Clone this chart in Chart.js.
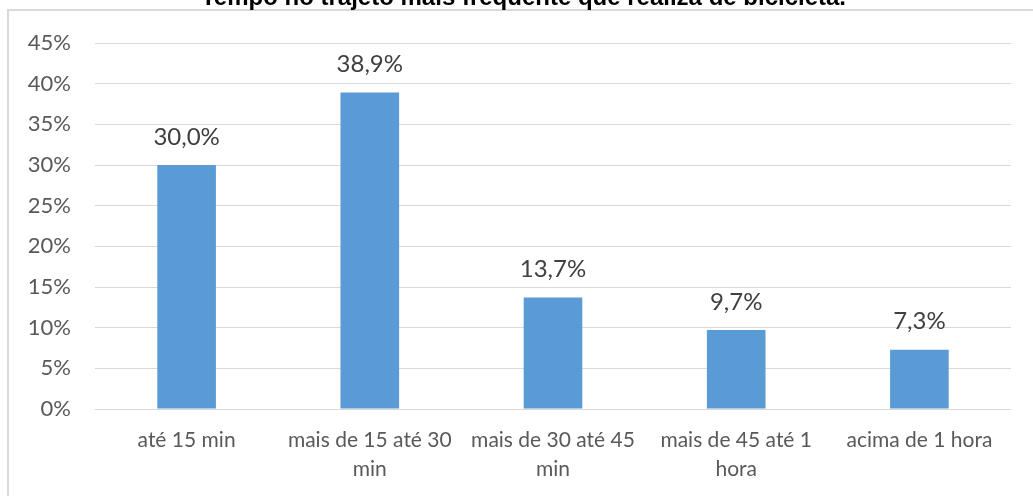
<!DOCTYPE html>
<html>
<head>
<meta charset="utf-8">
<script src="https://cdn.jsdelivr.net/npm/chart.js@4/dist/chart.umd.min.js"></script>
<style>
  body { margin: 0; background: #fff; overflow: hidden; }
  #wrap { position: relative; width: 1033px; height: 496px; }
  #frame {
    position: absolute; left: 7px; top: 9px; right: 0; bottom: 0;
    border-top: 2px solid #d9d9d9; border-left: 2px solid #d9d9d9;
  }
  #title {
    position: absolute; left: 0; width: 1033px; top: -15px; padding-left: 14px; box-sizing: border-box;
    text-align: center; font: bold 24px "Liberation Sans", Arial, sans-serif; line-height: 1;
    color: #000; white-space: nowrap;
  }
  canvas { position: absolute; left: 0; top: 0; }
</style>
</head>
<body>
<div id="wrap">
  <div id="frame"></div>
  <canvas id="chart" width="1033" height="496"></canvas>
  <div id="title">Tempo no trajeto mais frequente que realiza de bicicleta.</div>
</div>
<script>
// dados
const categories = [
  "até 15 min",
  ["mais de 15 até 30", "min"],
  ["mais de 30 até 45", "min"],
  ["mais de 45 até 1", "hora"],
  "acima de 1 hora"
];
const values = [30.0, 38.9, 13.7, 9.7, 7.3];
const yTicks = [0, 5, 10, 15, 20, 25, 30, 35, 40, 45];

// rótulos em cima das barras
const barLabels = {
  id: "barLabels",
  afterDatasetsDraw(chart) {
    const ctx = chart.ctx;
    const meta = chart.getDatasetMeta(0);
    ctx.save();
    ctx.font = "24px Lato";
    ctx.fillStyle = "#404040";
    ctx.textAlign = "center";
    ctx.textBaseline = "middle";
    meta.data.forEach((bar, i) => {
      const txt = values[i].toFixed(1).replace(".", ",") + "%";
      ctx.fillText(txt, bar.x, bar.y - 28);
    });
    ctx.restore();
  }
};

new Chart(document.getElementById("chart"), {
  type: "bar",
  data: {
    labels: categories,
    datasets: [{
      data: values,
      backgroundColor: "#5b9bd5",
      categoryPercentage: 1,
      barPercentage: 0.32
    }]
  },
  options: {
    responsive: false,
    devicePixelRatio: 1,
    animation: false,
    layout: { padding: { top: 43, right: 22, left: 0, bottom: 0 } },
    plugins: {
      legend: { display: false },
      tooltip: { enabled: false }
    },
    scales: {
      x: {
        grid: { display: false, drawTicks: false },
        border: { display: false },
        ticks: {
          color: "#595959",
          font: { family: "Lato", size: 21, lineHeight: 1.38 },
          padding: 17,
          maxRotation: 0,
          autoSkip: false
        },
        afterFit(scale) { scale.height = 87; }
      },
      y: {
        min: 0,
        max: 45,
        afterBuildTicks(scale) { scale.ticks = yTicks.map(v => ({ value: v })); },
        grid: { color: "#d9d9d9", lineWidth: 1, drawTicks: false },
        border: { display: false },
        ticks: {
          color: "#595959",
          font: { family: "Lato", size: 22 },
          padding: 24,
          callback: v => v + "%"
        },
        afterFit(scale) { scale.width = 95; }
      }
    }
  },
  plugins: [barLabels]
});
</script>
</body>
</html>
